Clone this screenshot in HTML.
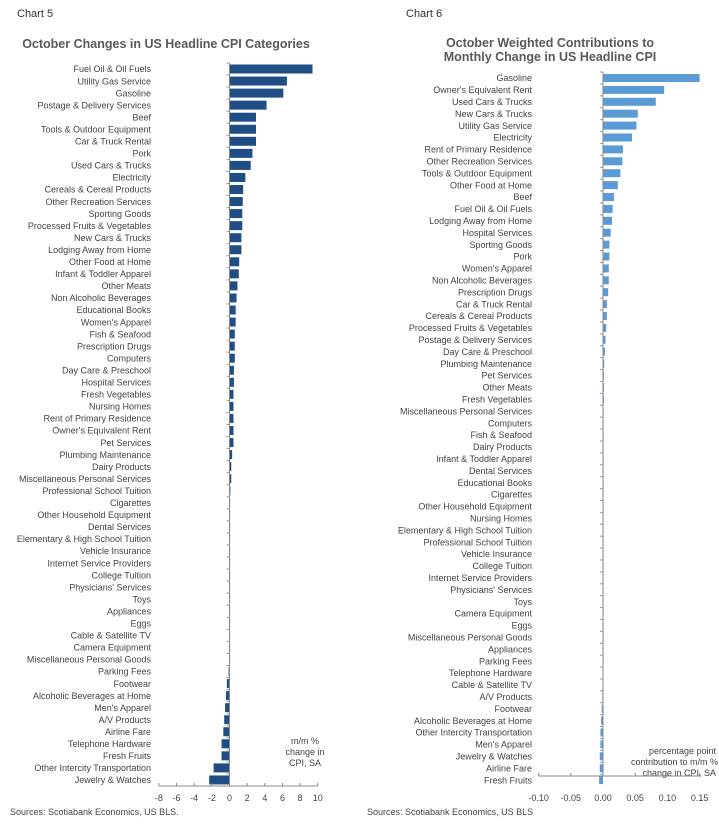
<!DOCTYPE html>
<html><head><meta charset="utf-8">
<style>
html,body{margin:0;padding:0;background:#fff;}
svg{display:block;font-family:"Liberation Sans",Arial,sans-serif;}
</style></head>
<body>
<svg id="s" width="719" height="826" xmlns="http://www.w3.org/2000/svg">
<text x="17" y="17" font-size="11" fill="#333">Chart 5</text>
<text x="406" y="17" font-size="11" fill="#333">Chart 6</text>
<text x="166" y="48" font-size="12.5" font-weight="bold" fill="#595959" text-anchor="middle">October Changes in US Headline CPI Categories</text>
<text x="550" y="47" font-size="12.5" font-weight="bold" fill="#595959" text-anchor="middle">October Weighted Contributions to</text>
<text x="550" y="61" font-size="12.5" font-weight="bold" fill="#595959" text-anchor="middle">Monthly Change in US Headline CPI</text>
<text x="10" y="815" font-size="9" fill="#444">Sources: Scotiabank Economics, US BLS.</text>
<text x="367" y="815" font-size="9" fill="#444">Sources: Scotiabank Economics, US BLS</text>
<g font-size="9" fill="#444" text-anchor="middle">
<text x="305" y="744">m/m %</text><text x="305" y="755">change in</text><text x="305" y="766">CPI, SA</text>
</g>
<g font-size="9" fill="#444" text-anchor="end">
<text x="716" y="754">percentage point</text><text x="718" y="765">contribution to m/m %</text><text x="716" y="776">change in CPI, SA</text>
</g>
<g id="g"></g>
</svg>
<script>
var L=[["Fuel Oil & Oil Fuels",9.4],["Utility Gas Service",6.5],["Gasoline",6.1],["Postage & Delivery Services",4.2],["Beef",3.0],["Tools & Outdoor Equipment",3.0],["Car & Truck Rental",3.0],["Pork",2.6],["Used Cars & Trucks",2.4],["Electricity",1.8],["Cereals & Cereal Products",1.55],["Other Recreation Services",1.5],["Sporting Goods",1.45],["Processed Fruits & Vegetables",1.45],["New Cars & Trucks",1.35],["Lodging Away from Home",1.35],["Other Food at Home",1.1],["Infant & Toddler Apparel",1.05],["Other Meats",0.9],["Non Alcoholic Beverages",0.8],["Educational Books",0.7],["Women's Apparel",0.7],["Fish & Seafood",0.6],["Prescription Drugs",0.6],["Computers",0.6],["Day Care & Preschool",0.5],["Hospital Services",0.5],["Fresh Vegetables",0.45],["Nursing Homes",0.45],["Rent of Primary Residence",0.45],["Owner's Equivalent Rent",0.45],["Pet Services",0.45],["Plumbing Maintenance",0.3],["Dairy Products",0.2],["Miscellaneous Personal Services",0.2],["Professional School Tuition",0.1],["Cigarettes",0.05],["Other Household Equipment",0.03],["Dental Services",0.03],["Elementary & High School Tuition",0.02],["Vehicle Insurance",0.02],["Internet Service Providers",0.01],["College Tuition",0.01],["Physicians' Services",0.01],["Toys",0],["Appliances",0],["Eggs",0],["Cable & Satellite TV",0],["Camera Equipment",0],["Miscellaneous Personal Goods",0],["Parking Fees",-0.1],["Footwear",-0.3],["Alcoholic Beverages at Home",-0.4],["Men's Apparel",-0.5],["A/V Products",-0.6],["Airline Fare",-0.7],["Telephone Hardware",-0.9],["Fresh Fruits",-0.9],["Other Intercity Transportation",-1.8],["Jewelry & Watches",-2.3]];
var R=[["Gasoline",0.15],["Owner's Equivalent Rent",0.095],["Used Cars & Trucks",0.082],["New Cars & Trucks",0.054],["Utility Gas Service",0.052],["Electricity",0.045],["Rent of Primary Residence",0.031],["Other Recreation Services",0.03],["Tools & Outdoor Equipment",0.027],["Other Food at Home",0.023],["Beef",0.017],["Fuel Oil & Oil Fuels",0.015],["Lodging Away from Home",0.014],["Hospital Services",0.012],["Sporting Goods",0.01],["Pork",0.01],["Women's Apparel",0.009],["Non Alcoholic Beverages",0.009],["Prescription Drugs",0.008],["Car & Truck Rental",0.006],["Cereals & Cereal Products",0.006],["Processed Fruits & Vegetables",0.005],["Postage & Delivery Services",0.004],["Day Care & Preschool",0.003],["Plumbing Maintenance",0.002],["Pet Services",0.0015],["Other Meats",0.0015],["Fresh Vegetables",0.0015],["Miscellaneous Personal Services",0.001],["Computers",0.001],["Fish & Seafood",0.001],["Dairy Products",0.001],["Infant & Toddler Apparel",0.001],["Dental Services",0.001],["Educational Books",0.0008],["Cigarettes",0.0008],["Other Household Equipment",0.0005],["Nursing Homes",0.0005],["Elementary & High School Tuition",0.0005],["Professional School Tuition",0.0003],["Vehicle Insurance",0.0003],["College Tuition",0.0002],["Internet Service Providers",0.0002],["Physicians' Services",0.0001],["Toys",0],["Camera Equipment",0],["Eggs",0],["Miscellaneous Personal Goods",0],["Appliances",0],["Parking Fees",0],["Telephone Hardware",-0.0005],["Cable & Satellite TV",-0.0008],["A/V Products",-0.001],["Footwear",-0.002],["Alcoholic Beverages at Home",-0.003],["Other Intercity Transportation",-0.004],["Men's Apparel",-0.004],["Jewelry & Watches",-0.005],["Airline Fare",-0.005],["Fresh Fruits",-0.006]];
var h='';
function esc(s){return s.replace(/&/g,'&amp;');}
function chart(D,y0,pitch,bh,zx,scale,lx,col,axY,ticks,fmt,top,labY){
  for(var i=0;i<D.length;i++){
    var y=y0+i*pitch,v=D[i][1]*scale;
    h+='<text x="'+lx+'" y="'+(y+3.2)+'" font-size="9" fill="#444" text-anchor="end">'+esc(D[i][0])+'</text>';
    var x=v>=0?zx:zx+v,w=Math.max(Math.abs(v),0.6);
    h+='<rect x="'+x+'" y="'+(y-bh/2)+'" width="'+w+'" height="'+bh+'" fill="'+col+'"/>';
    h+='<line x1="'+(zx-3)+'" x2="'+zx+'" y1="'+(y-pitch/2)+'" y2="'+(y-pitch/2)+'" stroke="#999" stroke-width="1"/>';
  }
  h+='<line x1="'+zx+'" x2="'+zx+'" y1="'+top+'" y2="'+axY+'" stroke="#888" stroke-width="1"/>';
  var a=ticks[0]*scale+zx,b=ticks[ticks.length-1]*scale+zx;
  h+='<line x1="'+a+'" x2="'+b+'" y1="'+axY+'" y2="'+axY+'" stroke="#888" stroke-width="1"/>';
  for(var j=0;j<ticks.length;j++){var tx=ticks[j]*scale+zx;
    h+='<line x1="'+tx+'" x2="'+tx+'" y1="'+(axY-3)+'" y2="'+axY+'" stroke="#888"/>';
    h+='<text x="'+tx+'" y="'+labY+'" font-size="9" fill="#444" text-anchor="middle">'+fmt(ticks[j])+'</text>';}
}
chart(L,69,12.05,9,229.5,8.83,151,"#1f4e84",786,[-8,-6,-4,-2,0,2,4,6,8,10],function(t){return ''+t;},63,801);
chart(R,78,11.9,8,603,644,532,"#5b9bd5",776,[-0.1,-0.05,0,0.05,0.1,0.15],function(t){return t.toFixed(2);},72,801);
document.getElementById('g').innerHTML=h;
</script>
</body></html>
